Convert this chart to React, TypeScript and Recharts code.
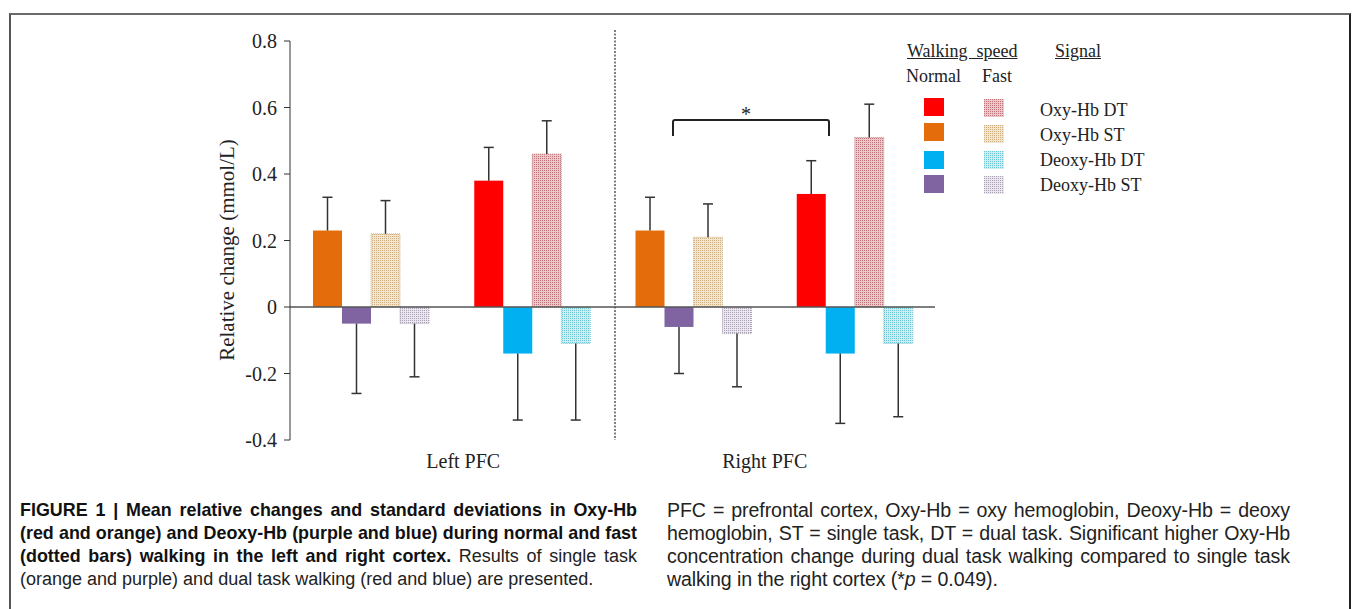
import React from 'react'
import { BarChart, Bar, XAxis, YAxis, ReferenceLine } from 'recharts'

// four groups: single / dual task within each cortex side
const categories = ['Left ST', 'Left DT', 'Right ST', 'Right DT']
const cortex = ['Left PFC', 'Left PFC', 'Right PFC', 'Right PFC']
const task = ['ST', 'DT', 'ST', 'DT']

const oxyNormal = [0.23, 0.38, 0.23, 0.34]
const deoxyNormal = [-0.05, -0.14, -0.06, -0.14]
const oxyFast = [0.22, 0.46, 0.21, 0.51]
const deoxyFast = [-0.05, -0.11, -0.08, -0.11]

const oxyNormalSd = [0.1, 0.1, 0.1, 0.1]
const deoxyNormalSd = [0.21, 0.2, 0.14, 0.21]
const oxyFastSd = [0.1, 0.1, 0.1, 0.1]
const deoxyFastSd = [0.16, 0.23, 0.16, 0.22]

const yTicks = [-0.4, -0.2, 0, 0.2, 0.4, 0.6, 0.8]
const signals = ['Oxy-Hb DT', 'Oxy-Hb ST', 'Deoxy-Hb DT', 'Deoxy-Hb ST']

const data = categories.map((name, i) => ({
  name,
  cortex: cortex[i],
  task: task[i],
  oxyNormal: oxyNormal[i],
  deoxyNormal: deoxyNormal[i],
  oxyFast: oxyFast[i],
  deoxyFast: deoxyFast[i],
  oxyNormalSd: oxyNormalSd[i],
  deoxyNormalSd: deoxyNormalSd[i],
  oxyFastSd: oxyFastSd[i],
  deoxyFastSd: deoxyFastSd[i],
}))

const fills: Record<string, Record<string, string>> = {
  oxyNormal: { DT: '#ff0000', ST: '#e46c0a' },
  deoxyNormal: { DT: '#00b0f0', ST: '#8064a2' },
  oxyFast: { DT: 'url(#dotPink)', ST: 'url(#dotTan)' },
  deoxyFast: { DT: 'url(#dotCyan)', ST: 'url(#dotLilac)' },
}
const dotStroke: Record<string, Record<string, string>> = {
  oxyFast: { DT: '#c98f92', ST: '#d2b486' },
  deoxyFast: { DT: '#7ccbd8', ST: '#b0a8b8' },
}
const legendFills = [
  ['#ff0000', 'url(#dotPink)'],
  ['#e46c0a', 'url(#dotTan)'],
  ['#00b0f0', 'url(#dotCyan)'],
  ['#8064a2', 'url(#dotLilac)'],
]

const serif = '"Liberation Serif", "Times New Roman", serif'
const sans = '"Liberation Sans", Arial, sans-serif'

function barShape(key: string) {
  return (props: any) => {
    const { x, y, width, height, payload } = props
    const v = payload[key]
    const sd = payload[key + 'Sd']
    const top = Math.min(y, y + height)
    const h = Math.abs(height)
    const k = v !== 0 ? h / Math.abs(v) : 0
    const cx = x + width / 2
    const start = v >= 0 ? top : top + h
    const end = v >= 0 ? top - sd * k : top + h + sd * k
    const stroke = dotStroke[key] ? dotStroke[key][payload.task] : 'none'
    return (
      <g>
        <rect
          x={x}
          y={top}
          width={width}
          height={h}
          fill={fills[key][payload.task]}
          stroke={stroke}
          strokeWidth={dotStroke[key] ? 1 : 0}
          strokeDasharray="1 1"
        />
        <line x1={cx} x2={cx} y1={start} y2={end} stroke="#333" strokeWidth={1.5} />
        <line x1={cx - 5} x2={cx + 5} y1={end} y2={end} stroke="#333" strokeWidth={1.5} />
      </g>
    )
  }
}

const labelShift = [12, 0, -9, 0]
const plotW = 1352 - 230 - 60 - 417
const band = plotW / categories.length

function CortexTick(props: any) {
  const { x, y, index } = props
  if (index % 2 !== 0) return null
  return (
    <text
      x={x + band / 2 + labelShift[index]}
      y={y + 20}
      textAnchor="middle"
      fontFamily={serif}
      fontSize={20}
      fill="#222"
    >
      {cortex[index]}
    </text>
  )
}

function Pattern({ id, bg, dot }: { id: string; bg: string; dot: string }) {
  return (
    <pattern id={id} width="2" height="2" patternUnits="userSpaceOnUse">
      <rect width="2" height="2" fill={bg} />
      <rect width="1" height="1" fill={dot} />
    </pattern>
  )
}

const bold = { fontWeight: 'bold' as const, color: '#111', fontSize: 17.9 }
const just = { textAlign: 'justify' as const, textAlignLast: 'justify' as const }

export default function App() {
  return (
    <div style={{ position: 'absolute', left: 0, top: 0, width: 1352, height: 609, background: '#fff', overflow: 'hidden' }}>
      <svg width={0} height={0} style={{ position: 'absolute' }}>
        <defs>
          <Pattern id="dotPink" bg="#ecc8ca" dot="#c07479" />
          <Pattern id="dotTan" bg="#f3e6d0" dot="#cfae80" />
          <Pattern id="dotCyan" bg="#cdeef3" dot="#6cc3d2" />
          <Pattern id="dotLilac" bg="#ebe7ee" dot="#aba2b5" />
        </defs>
      </svg>

      <div
        style={{
          position: 'absolute',
          left: 9,
          top: 13,
          width: 1338,
          height: 640,
          borderTop: '2px solid #6a6a6a',
          borderLeft: '2px solid #555',
          borderRight: '2px solid #222',
        }}
      />

      <div style={{ position: 'absolute', left: 0, top: 0 }}>
        <BarChart
          width={1352}
          height={480}
          data={data}
          margin={{ top: 41, right: 417, bottom: 10, left: 230 }}
          barSize={29}
          barGap={0}
          barCategoryGap={22}
        >
          <XAxis dataKey="cortex" axisLine={false} tickLine={false} tick={<CortexTick />} height={30} interval={0} />
          <YAxis
            domain={[-0.4, 0.8]}
            ticks={yTicks}
            tickFormatter={(v: number) => String(+v.toFixed(1))}
            axisLine={{ stroke: '#333', strokeWidth: 1 }}
            tickLine={{ stroke: '#333' }}
            tickSize={6}
            tickMargin={7}
            tick={{ fill: '#222', fontSize: 20, fontFamily: serif }}
            width={60}
          />
          <ReferenceLine y={0} stroke="#555" strokeWidth={1.5} />
          <Bar dataKey="oxyNormal" isAnimationActive={false} shape={barShape('oxyNormal')} />
          <Bar dataKey="deoxyNormal" isAnimationActive={false} shape={barShape('deoxyNormal')} />
          <Bar dataKey="oxyFast" isAnimationActive={false} shape={barShape('oxyFast')} />
          <Bar dataKey="deoxyFast" isAnimationActive={false} shape={barShape('deoxyFast')} />
        </BarChart>
      </div>

      <svg width={1352} height={480} style={{ position: 'absolute', left: 0, top: 0, pointerEvents: 'none' }}>
        <line x1={615} x2={615} y1={30} y2={440} stroke="#555" strokeWidth={1.5} strokeDasharray="2 1.5" />
        <path d="M673 136 L673 122 Q673 120 675 120 L827 120 Q829 120 829 122 L829 136" fill="none" stroke="#222" strokeWidth={2} />
        <text x={746} y={121} textAnchor="middle" fontFamily={serif} fontSize={20} fill="#222">*</text>
        <text
          transform="translate(234 250) rotate(-90)"
          textAnchor="middle"
          fontFamily={serif}
          fontSize={21}
          fill="#222"
        >
          Relative change (mmol/L)
        </text>
      </svg>

      <div style={{ position: 'absolute', left: 0, top: 0, fontFamily: serif, fontSize: 18, color: '#222' }}>
        <div style={{ position: 'absolute', left: 907, top: 41, whiteSpace: 'pre', textDecoration: 'underline' }}>Walking  speed</div>
        <div style={{ position: 'absolute', left: 1055, top: 41, textDecoration: 'underline' }}>Signal</div>
        <div style={{ position: 'absolute', left: 906, top: 66 }}>Normal</div>
        <div style={{ position: 'absolute', left: 982, top: 66 }}>Fast</div>
        {signals.map((s, i) => (
          <React.Fragment key={s}>
            <svg style={{ position: 'absolute', left: 924, top: [98, 123, 151, 175][i] }} width={20} height={18}>
              <rect width={20} height={18} fill={legendFills[i][0]} />
            </svg>
            <svg style={{ position: 'absolute', left: 984, top: [99, 125, 151, 176][i] }} width={20} height={18}>
              <rect width={20} height={18} fill={legendFills[i][1]} />
            </svg>
            <div style={{ position: 'absolute', left: 1040, top: [100, 125, 150, 175][i], whiteSpace: 'nowrap' }}>{s}</div>
          </React.Fragment>
        ))}
      </div>

      <div style={{ position: 'absolute', left: 20, top: 499, width: 617, fontFamily: sans, fontSize: 18, lineHeight: '23px', color: '#222', whiteSpace: 'nowrap' }}>
        <div style={{ ...bold, ...just }}>FIGURE 1 | Mean relative changes and standard deviations in Oxy-Hb</div>
        <div style={{ ...bold, ...just }}>(red and orange) and Deoxy-Hb (purple and blue) during normal and fast</div>
        <div style={just}>
          <span style={bold}>(dotted bars) walking in the left and right cortex.</span> Results of single task
        </div>
        <div>(orange and purple) and dual task walking (red and blue) are presented.</div>
      </div>

      <div style={{ position: 'absolute', left: 667, top: 499, width: 623, fontFamily: sans, fontSize: 19.6, letterSpacing: -0.1, lineHeight: '23px', color: '#222', whiteSpace: 'nowrap' }}>
        <div style={just}>PFC = prefrontal cortex, Oxy-Hb = oxy hemoglobin, Deoxy-Hb = deoxy</div>
        <div style={just}>hemoglobin, ST = single task, DT = dual task. Significant higher Oxy-Hb</div>
        <div style={just}>concentration change during dual task walking compared to single task</div>
        <div>
          walking in the right cortex (*<i>p</i> = 0.049).
        </div>
      </div>
    </div>
  )
}
